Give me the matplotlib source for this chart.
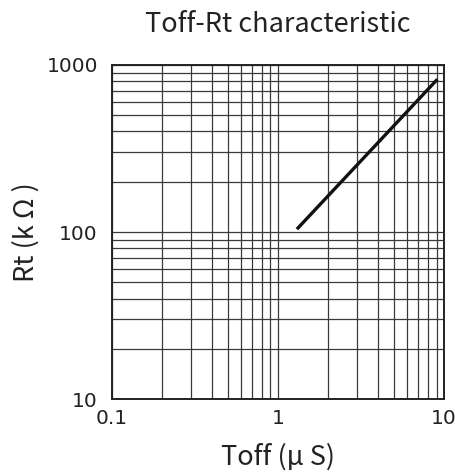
import matplotlib
matplotlib.use("Agg")
import matplotlib.pyplot as plt
from matplotlib.ticker import FixedLocator, NullFormatter

plt.rcParams['font.family'] = ['Noto Sans CJK JP', 'DejaVu Sans']

# curve (Toff in us, Rt in kOhm)
toff = [1.30, 9.1]
rt = [104, 820]

x_ticks = [0.1, 1, 10]
x_labels = ["0.1", "1", "10"]
y_ticks = [10, 100, 1000]
y_labels = ["10", "100", "1000"]

fig = plt.figure(figsize=(4.56, 4.74), dpi=100)
ax = fig.add_axes([0.245, 0.158, 0.729, 0.705])
ax.set_xscale("log"); ax.set_yscale("log")
ax.set_xlim(0.1, 10); ax.set_ylim(10, 1000)

ax.set_xticks(x_ticks); ax.set_xticklabels(x_labels, family="DejaVu Sans")
ax.set_yticks(y_ticks); ax.set_yticklabels(y_labels, family="DejaVu Sans")
minor = [m * d for d in (0.1, 1, 10, 100) for m in range(2, 10)]
ax.xaxis.set_minor_locator(FixedLocator(minor)); ax.xaxis.set_minor_formatter(NullFormatter())
ax.yaxis.set_minor_locator(FixedLocator(minor)); ax.yaxis.set_minor_formatter(NullFormatter())
ax.grid(which="both", color="#3a3a3a", lw=0.9)
ax.tick_params(which="both", length=0, labelsize=14.5, colors="#222222")
ax.tick_params(axis="x", pad=7)
ax.tick_params(axis="y", pad=10)

ax.plot(toff, rt, color="#111111", lw=2.4, solid_capstyle="butt")

for s in ax.spines.values():
    s.set_linewidth(1.4); s.set_color("#222222")

ax.set_title("Toff-Rt characteristic", fontsize=19.5, color="#222222", pad=24)
ax.set_xlabel("Toff (μ S)", fontsize=19.5, color="#222222", labelpad=11)
ax.set_ylabel("Rt (k Ω )", fontsize=19.5, color="#222222", labelpad=5)

fig.savefig("out.png", dpi=100)
